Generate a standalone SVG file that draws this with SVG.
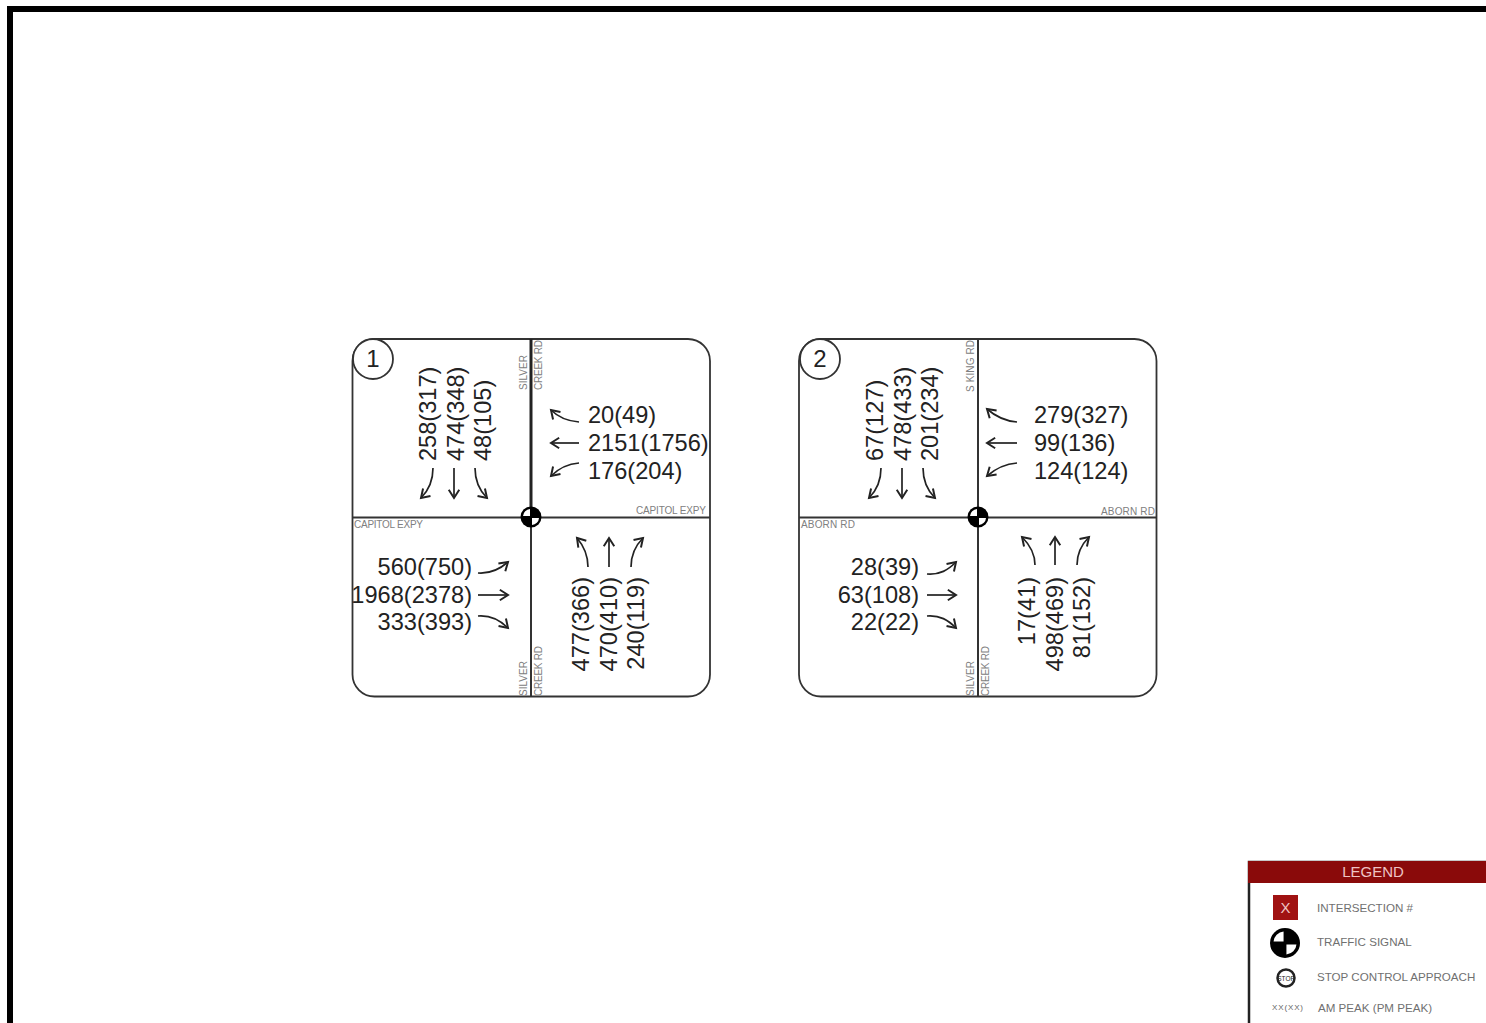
<svg xmlns="http://www.w3.org/2000/svg" width="1486" height="1023" viewBox="0 0 1486 1023">
<style>
text{font-family:"Liberation Sans",Arial,sans-serif}
.v{font-size:23.6px;fill:#222}
.r{font-size:10px;fill:#808080}
.a{fill:none;stroke:#222;stroke-width:1.7;marker-end:url(#h)}
.p{fill:#fff;stroke:#333;stroke-width:1.8}
.l{stroke:#333;stroke-width:2}
.t{stroke:#222;stroke-width:3}
.li{font-size:11.6px;fill:#707070}
</style>
<defs>
<marker id="h" markerUnits="userSpaceOnUse" markerWidth="14" markerHeight="14" refX="9" refY="6" orient="auto" viewBox="0 0 12 12"><path d="M2,1.500 L9,6 L2,10.500" fill="none" stroke="#222" stroke-width="1.7"/></marker>
<g id="sig"><circle r="10.500" fill="#000"/><path d="M-1,-1V-8A7.500,7.500 0 0 0 -8,-1ZM1,1V8A7.500,7.500 0 0 0 8,1Z" fill="#fff"/></g>
</defs>
<rect width="1486" height="1023" fill="#fff"/>
<g id="frame"><path d="M1486,9H10V1023" fill="none" stroke="#000" stroke-width="6"/></g>

<g id="intersection-1">
<rect class="p" x="352.500" y="339" width="357.500" height="357.500" rx="22"/>
<path class="l" d="M352.500,517.500H710"/>
<path class="t" d="M531,339V517"/>
<path class="l" d="M531,517V696.500"/>
<use href="#sig" x="531" y="517"/>
<circle cx="373" cy="359" r="20" fill="#fff" stroke="#333" stroke-width="1.8"/>
<text x="373" y="367" font-size="24" fill="#222" text-anchor="middle">1</text>
<text class="r" textLength="35" transform="translate(527,390) rotate(-90)">SILVER</text>
<text class="r" textLength="50" transform="translate(542,390) rotate(-90)">CREEK RD</text>
<text class="r" textLength="35" transform="translate(527,696) rotate(-90)">SILVER</text>
<text class="r" textLength="50" transform="translate(542,696) rotate(-90)">CREEK RD</text>
<text class="r" textLength="69" x="354" y="528">CAPITOL EXPY</text>
<text class="r" textLength="70" x="636" y="514">CAPITOL EXPY</text>
<text class="v" x="588" y="423">20(49)</text>
<text class="v" x="588" y="451">2151(1756)</text>
<text class="v" x="588" y="478.500">176(204)</text>
<text class="v" x="472" y="575" text-anchor="end">560(750)</text>
<text class="v" x="472" y="602.500" text-anchor="end">1968(2378)</text>
<text class="v" x="472" y="630" text-anchor="end">333(393)</text>
<text class="v" transform="translate(436,461) rotate(-90)">258(317)</text>
<text class="v" transform="translate(464,461) rotate(-90)">474(348)</text>
<text class="v" transform="translate(491,461) rotate(-90)">48(105)</text>
<text class="v" text-anchor="end" transform="translate(589,577) rotate(-90)">477(366)</text>
<text class="v" text-anchor="end" transform="translate(617,577) rotate(-90)">470(410)</text>
<text class="v" text-anchor="end" transform="translate(644,577) rotate(-90)">240(119)</text>
</g>

<g id="intersection-2">
<rect class="p" x="799" y="339" width="357.500" height="357.500" rx="22"/>
<path class="l" d="M799,517.500H1156.500"/>
<path class="l" d="M978,339V696.500"/>
<use href="#sig" x="978" y="517"/>
<circle cx="820" cy="359" r="20" fill="#fff" stroke="#333" stroke-width="1.8"/>
<text x="820" y="367" font-size="24" fill="#222" text-anchor="middle">2</text>
<text class="r" textLength="52" transform="translate(974,392) rotate(-90)">S KING RD</text>
<text class="r" textLength="35" transform="translate(974,696) rotate(-90)">SILVER</text>
<text class="r" textLength="50" transform="translate(989,696) rotate(-90)">CREEK RD</text>
<text class="r" textLength="54" x="801" y="528">ABORN RD</text>
<text class="r" textLength="54" x="1101" y="515">ABORN RD</text>
<text class="v" x="1034" y="423">279(327)</text>
<text class="v" x="1034" y="451">99(136)</text>
<text class="v" x="1034" y="478.500">124(124)</text>
<text class="v" x="919" y="575" text-anchor="end">28(39)</text>
<text class="v" x="919" y="602.500" text-anchor="end">63(108)</text>
<text class="v" x="919" y="630" text-anchor="end">22(22)</text>
<text class="v" transform="translate(883,461) rotate(-90)">67(127)</text>
<text class="v" transform="translate(911,461) rotate(-90)">478(433)</text>
<text class="v" transform="translate(938,461) rotate(-90)">201(234)</text>
<text class="v" text-anchor="end" transform="translate(1035,577) rotate(-90)">17(41)</text>
<text class="v" text-anchor="end" transform="translate(1063,577) rotate(-90)">498(469)</text>
<text class="v" text-anchor="end" transform="translate(1090,577) rotate(-90)">81(152)</text>
</g>

<g id="connectors">
<path class="a" d="M579,422C566,421 558,417 551,410"/>
<path class="a" d="M579,443H551"/>
<path class="a" d="M579,463C566,464 558,469 551,476"/>
<path class="a" d="M433,468C433,482 428,491 421,498"/>
<path class="a" d="M454,468V498"/>
<path class="a" d="M475,468C475,482 480,491 487,498"/>
<path class="a" d="M478,573C491,574 500,569 508,562"/>
<path class="a" d="M478,595H508"/>
<path class="a" d="M478,616C491,615 500,620 508,628"/>
<path class="a" d="M588,567C588,553 583,545 577,538"/>
<path class="a" d="M609,567V538"/>
<path class="a" d="M631,567C631,553 636,545 643,538"/>
<path class="a" d="M1017,422C1004,421 995,416 987,409"/>
<path class="a" d="M1017,443H987"/>
<path class="a" d="M1017,463C1004,464 995,469 987,476"/>
<path class="a" d="M881,468C881,482 876,491 869,498"/>
<path class="a" d="M902,468V498"/>
<path class="a" d="M923,468C923,482 928,491 935,498"/>
<path class="a" d="M927,574C940,575 948,570 956,562"/>
<path class="a" d="M927,595H956"/>
<path class="a" d="M927,616C940,615 948,620 956,628"/>
<path class="a" d="M1035,565C1035,552 1029,544 1022,537"/>
<path class="a" d="M1055,565V537"/>
<path class="a" d="M1077,565C1077,552 1082,544 1089,537"/>
</g>

<g id="legend">
<rect x="1249" y="862" width="240" height="165" fill="#fff" stroke="#222" stroke-width="2.500"/>
<rect x="1248" y="861" width="238" height="22" fill="#8a0a0a"/>
<text x="1373" y="877" font-size="15" fill="#eec4c4" text-anchor="middle">LEGEND</text>
<rect x="1273" y="895" width="25" height="25" fill="#a01212"/>
<text x="1285.500" y="913" font-size="15" fill="#eec4c4" text-anchor="middle">X</text>
<text class="li" x="1317" y="912">INTERSECTION #</text>
<use href="#sig" transform="translate(1285,943) scale(1.43)"/>
<text class="li" x="1317" y="946">TRAFFIC SIGNAL</text>
<circle cx="1286" cy="978" r="8.500" fill="#fff" stroke="#222" stroke-width="2.500"/>
<text x="1286" y="980.500" font-size="6.500" fill="#222" text-anchor="middle">STOP</text>
<text class="li" x="1317" y="981">STOP CONTROL APPROACH</text>
<text x="1272" y="1010" font-size="8" textLength="31" fill="#666">XX(XX)</text>
<text class="li" x="1318" y="1012">AM PEAK (PM PEAK)</text>
</g>
</svg>
